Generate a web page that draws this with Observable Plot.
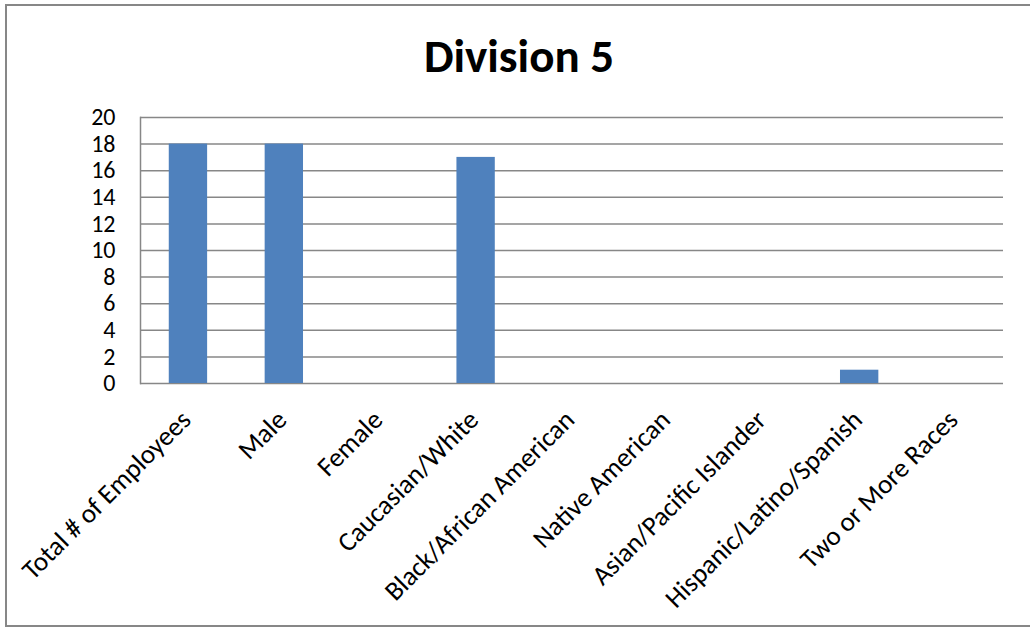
<!DOCTYPE html>
<html>
<head>
<meta charset="utf-8">
<script src="https://cdn.jsdelivr.net/npm/d3@7"></script>
<script src="https://cdn.jsdelivr.net/npm/@observablehq/plot@0.6"></script>
<style>
  html, body { margin: 0; padding: 0; background: #fff; overflow: hidden; }
  #wrap { position: relative; width: 1030px; height: 627px; overflow: hidden; font-family: Carlito, Calibri, Lato, sans-serif; }
  #border { position: absolute; left: 5px; top: 4px; width: 1100px; height: 619px; border: 2px solid #878787; box-sizing: content-box; }
  #title { position: absolute; left: 0; width: 1038px; top: 25px; text-align: center; font-weight: bold; font-size: 47px; line-height: 62px; color: #000; }
  #chart { position: absolute; left: 0; top: 0; }
</style>
</head>
<body>
<div id="wrap">
  <div id="border"></div>
  <div id="title">Division 5</div>
  <div id="chart"></div>
</div>
<script>
const categories = [
  "Total # of Employees",
  "Male",
  "Female",
  "Caucasian/White",
  "Black/African American",
  "Native American",
  "Asian/Pacific Islander",
  "Hispanic/Latino/Spanish",
  "Two or More Races"
];
const counts = [18, 18, 0, 17, 0, 0, 0, 1, 0];
const yTicks = [0, 2, 4, 6, 8, 10, 12, 14, 16, 18, 20];

const data = categories.map((c, i) => ({category: c, value: counts[i]}));

const chart = Plot.plot({
  width: 1030,
  height: 627,
  marginLeft: 140,
  marginRight: 27,
  marginTop: 117,
  marginBottom: 244,
  style: {fontFamily: "Carlito, Calibri, Lato, sans-serif", background: "transparent", color: "#000"},
  x: {domain: categories, paddingInner: 0.6, paddingOuter: 0.3, round: false, axis: null},
  y: {domain: [0, 20], axis: null},
  marks: [
    Plot.gridY(yTicks, {stroke: "#878787", strokeOpacity: 1, strokeWidth: 1.5}),
    Plot.frame({anchor: "left", stroke: "#878787", strokeWidth: 1.5}),
    Plot.barY(data, {x: "category", y: "value", fill: "#4f81bd"}),
    Plot.axisY(yTicks, {tickSize: 0, tickPadding: 25, fontSize: 24, label: null, tickFormat: d => String(d)}),
    Plot.text(data, {x: "category", y: () => 0, text: "category", rotate: -45, textAnchor: "end", lineAnchor: "bottom", dx: 4, dy: 38, fontSize: 27, fill: "#000"})
  ]
});
document.getElementById("chart").appendChild(chart);
</script>
</body>
</html>
